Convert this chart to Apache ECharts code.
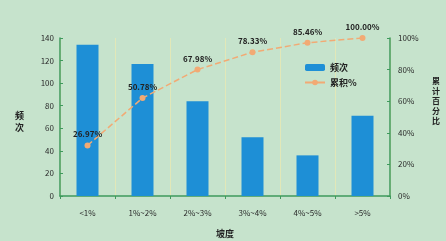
<!DOCTYPE html>
<html>
<head>
<meta charset="utf-8">
<script src="https://cdn.jsdelivr.net/npm/echarts@6/dist/echarts.min.js"></script>
<style>
  html, body { margin: 0; padding: 0; background: #c6e3cc; }
  #chart { width: 446px; height: 241px; }
</style>
</head>
<body>
<div id="chart"></div>
<script>
// categories and values
var categories = ["<1%", "1%~2%", "2%~3%", "3%~4%", "4%~5%", ">5%"];
var freq = [134, 117, 84, 52, 36, 71];
// cumulative line, positions as drawn against the right axis
var cumPos = [32, 62, 80, 91, 97, 100];
var cumLabels = ["26.97%", "50.78%", "67.98%", "78.33%", "85.46%", "100.00%"];
var leftTicks = { min: 0, max: 140, interval: 20 };
var rightTicks = { min: 0, max: 100, interval: 20 };

var green = "#3f9a5c";
var font = "Noto Sans CJK SC";

var chart = echarts.init(document.getElementById("chart"));
chart.setOption({
  backgroundColor: "#c6e3cc",
  textStyle: { fontFamily: font },
  grid: { left: 60, right: 56, top: 38, bottom: 45, outerBoundsMode: "none" },
  legend: {
    orient: "vertical",
    left: 299,
    top: 58,
    itemWidth: 20,
    itemHeight: 7,
    itemGap: 6,
    textStyle: { fontSize: 9, color: "#222", fontWeight: "bold" },
    data: ["频次", "累积%"]
  },
  graphic: [
    {
      type: "text",
      left: 432,
      top: 76,
      style: {
        text: "累\n计\n百\n分\n比",
        font: "bold 8px " + font,
        lineHeight: 10,
        fill: "#222"
      }
    },
    {
      type: "text",
      left: 15,
      top: 110,
      style: {
        text: "频\n次",
        font: "bold 9px " + font,
        lineHeight: 12,
        fill: "#222"
      }
    }
  ],
  xAxis: {
    type: "category",
    data: categories,
    name: "坡度",
    nameLocation: "middle",
    nameGap: 33,
    nameTextStyle: { fontSize: 9, color: "#222", fontWeight: "bold" },
    axisLine: { lineStyle: { color: green, width: 1.5 } },
    axisTick: { show: true, length: 3, lineStyle: { color: green } },
    axisLabel: { fontSize: 8, color: "#2a2a2a", margin: 13 },
    splitLine: { show: true, lineStyle: { color: "rgba(245,235,170,0.6)" } }
  },
  yAxis: [
    {
      type: "value",
      min: leftTicks.min,
      max: leftTicks.max,
      interval: leftTicks.interval,
      axisLine: { show: true, lineStyle: { color: green, width: 1.5 } },
      axisTick: { show: true, inside: true, length: 3, lineStyle: { color: green } },
      axisLabel: { fontSize: 8, color: "#2a2a2a", margin: 6 },
      splitLine: { show: false }
    },
    {
      type: "value",
      min: rightTicks.min,
      max: rightTicks.max,
      interval: rightTicks.interval,
      position: "right",
      axisLine: { show: true, lineStyle: { color: green, width: 1.5 } },
      axisTick: { show: true, inside: true, length: 3, lineStyle: { color: green } },
      axisLabel: { fontSize: 8, color: "#2a2a2a", margin: 8, formatter: "{value}%" },
      splitLine: { show: false }
    }
  ],
  series: [
    {
      name: "频次",
      type: "bar",
      barWidth: 22,
      itemStyle: { color: "#1e8fd6" },
      data: freq
    },
    {
      name: "累积%",
      type: "line",
      yAxisIndex: 1,
      clip: false,
      symbol: "circle",
      symbolSize: 6,
      itemStyle: { color: "#f2aa74" },
      lineStyle: { color: "#f2aa74", width: 1.5, type: "dashed" },
      label: {
        show: true,
        position: "top",
        distance: 4,
        fontSize: 8,
        color: "#222",
        fontWeight: "bold",
        formatter: function (p) { return cumLabels[p.dataIndex]; }
      },
      data: cumPos
    }
  ]
});
</script>
</body>
</html>
